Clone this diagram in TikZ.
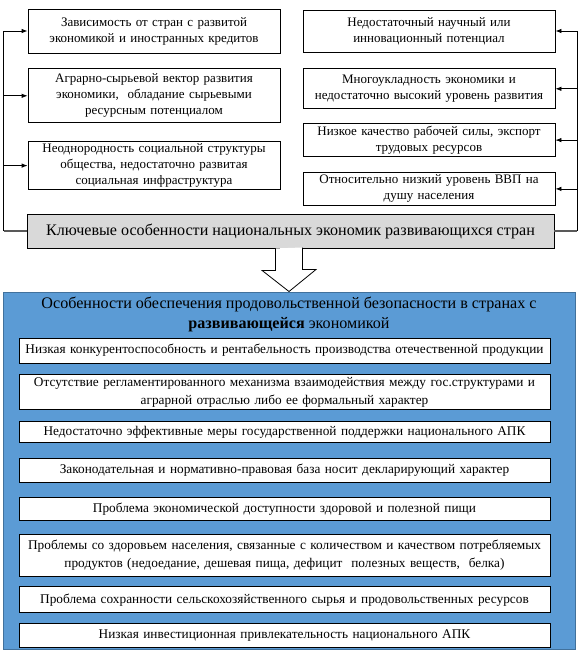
\documentclass[tikz,border=0pt]{standalone}
\usepackage{fontspec}
\setmainfont{Liberation Serif}
\usetikzlibrary{positioning,arrows.meta,calc}

\definecolor{keygray}{HTML}{D9D9D9}
\definecolor{foodblue}{HTML}{5B9BD5}
\definecolor{foodedge}{HTML}{41719C}

\tikzset{
  topbox/.style={draw, fill=white, line width=0.8pt, minimum width=252pt,
    text width=250pt, align=center, inner sep=0pt,
    font=\fontsize{13}{16}\selectfont},
  listbox/.style={draw, fill=white, line width=0.8pt, minimum width=531pt,
    text width=529pt, align=center, inner sep=0pt,
    font=\fontsize{13.3}{17.5}\selectfont},
  keybox/.style={draw, fill=keygray, line width=0.8pt, minimum width=527pt,
    minimum height=34pt, inner sep=0pt, font=\fontsize{16.1}{18}\selectfont},
  feed/.style={-{Latex[length=6pt,width=4.5pt]}, line width=0.8pt},
  bus/.style={line width=0.8pt},
  busfoot/.style={line width=1.4pt, gray!70!black},
}

\begin{document}
\begin{tikzpicture}[x=1pt, y=-1pt]
  \useasboundingbox (0,0) rectangle (581,651);

  % left column
  \node[topbox, minimum height=44pt] (dep) at (154,31)
    {Зависимость от стран с развитой\\экономикой и иностранных кредитов};
  \node[topbox, minimum height=54pt, below=15pt of dep] (agr)
    {Аграрно-сырьевой вектор развития\\экономики, \ обладание сырьевыми\\ресурсным потенциалом};
  \node[topbox, minimum height=48pt, below=18pt of agr] (soc)
    {Неоднородность социальной структуры\\общества, недостаточно развитая\\социальная инфраструктура};

  % right column
  \node[topbox, minimum height=42pt] (sci) at (429,31)
    {Недостаточный научный или\\инновационный потенциал};
  \node[topbox, minimum height=40pt, below=16pt of sci] (multi)
    {Многоукладность экономики и\\недостаточно высокий уровень развития};
  \node[topbox, minimum height=33pt, below=14pt of multi] (labour)
    {Низкое качество рабочей силы, экспорт\\трудовых ресурсов};
  \node[topbox, minimum height=33pt, below=15pt of labour] (gdp)
    {Относительно низкий уровень ВВП на\\душу населения};

  \node[keybox] (key) at (290.5,231)
    {Ключевые особенности национальных экономик развивающихся стран};

  % feedback lines
  \coordinate (ltop) at ([xshift=-24pt]dep.west);
  \coordinate (rtop) at ([xshift=22pt]sci.east);
  \draw[busfoot] (key.west) -- (ltop |- key.west);
  \draw[busfoot] (key.east) -- (rtop |- key.east);
  \draw[bus] (ltop |- key.west) -- (ltop);
  \draw[bus] (rtop |- key.east) -- (rtop);
  \foreach \n in {dep,agr,soc}
    \draw[feed] (ltop |- \n.west) -- (\n.west);
  \foreach \n in {sci,multi,labour,gdp}
    \draw[feed] (rtop |- \n.east) -- (\n.east);

  % food security block
  \node[draw=foodedge, fill=foodblue, line width=1pt, minimum width=572pt,
    minimum height=357pt, inner sep=0pt] (food) at (289,470.5) {};
  \node[align=center, font=\fontsize{16.1}{20}\selectfont] (head) at (289,314)
    {Особенности обеспечения продовольственной безопасности в странах с\\
     \textbf{развивающейся} экономикой};

  \node[listbox, minimum height=25pt] (compet) at (284.5,350.5)
    {Низкая конкурентоспособность и рентабельность производства отечественной продукции};
  \node[listbox, minimum height=35pt, below=11pt of compet] (mech)
    {Отсутствие регламентированного механизма взаимодействия между гос.структурами и\\
     аграрной отраслью либо ее формальный характер};
  \node[listbox, minimum height=21pt, below=11pt of mech] (support)
    {Недостаточно эффективные меры государственной поддержки национального АПК};
  \node[listbox, minimum height=24pt, below=15pt of support] (law)
    {Законодательная и нормативно-правовая база носит декларирующий характер};
  \node[listbox, minimum height=23pt, below=14pt of law] (access)
    {Проблема экономической доступности здоровой и полезной пищи};
  \node[listbox, minimum height=42pt, below=13pt of access] (health)
    {Проблемы со здоровьем населения, связанные с количеством и качеством потребляемых\\
     продуктов (недоедание, дешевая пища, дефицит \ полезных веществ, \ белка)};
  \node[listbox, minimum height=26pt, below=10pt of health] (store)
    {Проблема сохранности сельскохозяйственного сырья и продовольственных ресурсов};
  \node[listbox, minimum height=24pt, below=10pt of store] (invest)
    {Низкая инвестиционная привлекательность национального АПК};

  % hollow arrow
  \coordinate (tip) at (food.north);
  \draw[line width=0.8pt, fill=white] (tip |- key.south) ++(-13.5,0) -- ++(0,22)
    -- ++(-13.5,0) -- (tip) -- ++(27,-22) -- ++(-13.5,0) -- ++(0,-22);
\end{tikzpicture}
\end{document}
